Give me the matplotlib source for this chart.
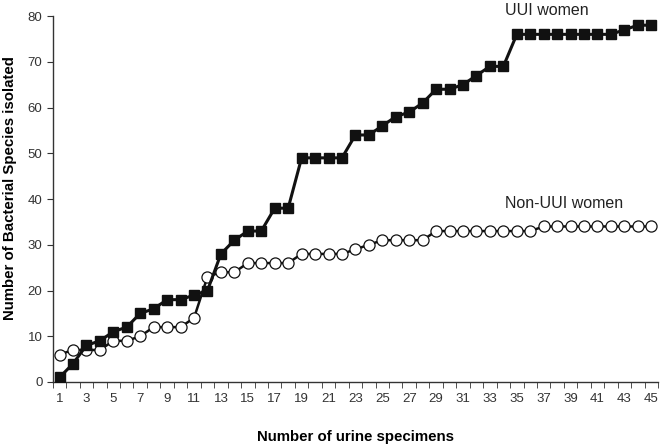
import matplotlib
matplotlib.use("Agg")
import matplotlib.pyplot as plt
import numpy as np

plt.rcParams['font.family'] = ['Liberation Sans', 'DejaVu Sans']

specimens = list(range(1, 46))
uui_women = [1, 4, 8, 9, 11, 12, 15, 16, 18, 18,
             19, 20, 28, 31, 33, 33, 38, 38, 49, 49,
             49, 49, 54, 54, 56, 58, 59, 61, 64, 64,
             65, 67, 69, 69, 76, 76, 76, 76, 76, 76,
             76, 76, 77, 78, 78]
non_uui_women = [6, 7, 7, 7, 9, 9, 10, 12, 12, 12,
                 14, 23, 24, 24, 26, 26, 26, 26, 28, 28,
                 28, 28, 29, 30, 31, 31, 31, 31, 33, 33,
                 33, 33, 33, 33, 33, 33, 34, 34, 34, 34,
                 34, 34, 34, 34, 34]

fig = plt.figure(figsize=(6.6, 4.46), dpi=100)
ax = fig.add_axes([0.080, 0.1435, 0.917, 0.8205])

ax.plot(specimens, non_uui_women, color="#111111", lw=1.8, marker="o",
        markersize=8, markerfacecolor="white", markeredgecolor="#111111",
        markeredgewidth=0.9, zorder=3)
ax.plot(specimens, uui_women, color="#111111", lw=2.2, marker="s",
        markersize=7, markerfacecolor="#111111", markeredgecolor="#111111",
        zorder=4)

ax.set_xlim(0.5, 45.5)
ax.set_ylim(0, 80)
ax.set_yticks(np.arange(0, 81, 10))
ax.set_xticks(np.arange(1, 46, 2))
ax.set_xticks(np.arange(0.5, 46, 1), minor=True)
ax.tick_params(axis="x", which="major", length=0, labelsize=9.5, pad=8, colors="#333333")
ax.tick_params(axis="x", which="minor", length=4, direction="out", color="#333333")
ax.tick_params(axis="y", length=4, direction="out", labelsize=9.5, colors="#333333")

for s in ["top", "right"]:
    ax.spines[s].set_visible(False)
for s in ["left", "bottom"]:
    ax.spines[s].set_color("#333333")
    ax.spines[s].set_linewidth(1.0)

ax.set_xlabel("Number of urine specimens", fontsize=10.8, fontweight="bold", labelpad=18)
ax.set_ylabel("Number of Bacterial Species isolated", fontsize=10.8, fontweight="bold")
ax.yaxis.set_label_coords(-0.059, 0.53)

ax.text(34.1, 81.3, "UUI women", fontsize=11.5, color="#222222", ha="left", va="center")
ax.text(34.1, 39.1, "Non-UUI women", fontsize=11.5, color="#222222", ha="left", va="center")

fig.savefig("out.png", dpi=100)
